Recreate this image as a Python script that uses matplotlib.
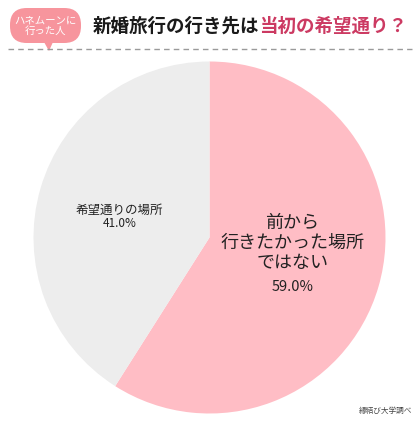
import matplotlib
matplotlib.use("Agg")
import matplotlib.pyplot as plt
from matplotlib.patches import FancyBboxPatch, Polygon
from matplotlib.lines import Line2D

plt.rcParams["font.family"] = ["Noto Sans CJK JP", "DejaVu Sans"]

# data
categories = ["前から\n行きたかった場所\nではない", "希望通りの場所"]
shares = [59.0, 41.0]
colors = ["#FFBDC5", "#EDEDED"]
# (x, y of name, y of percentage) in pie data units
label_pos = [(0.47, -0.031, -0.281), (-0.51, 0.156, 0.082)]
label_size = [13, 9]
pct_size = [10.5, 8.5]

title_black = "新婚旅行の行き先は"
title_red = "当初の希望通り？"
badge_text = "ハネムーンに\n行った人"
source_text = "縁結び大学調べ"

W, H = 420, 424
fig = plt.figure(figsize=(W / 100, H / 100), dpi=100)
fig.patch.set_facecolor("white")

# pie
cx, cy, r = 209.5, 237.5, 176
ax = fig.add_axes([(cx - r) / W, (H - cy - r) / H, 2 * r / W, 2 * r / H])
ax.pie(shares, colors=colors, startangle=90, counterclock=False,
       radius=1, wedgeprops=dict(linewidth=0))
ax.set_xlim(-1, 1)
ax.set_ylim(-1, 1)
ax.set_aspect("equal")
ax.axis("off")

for name, val, (x, yn, yp), fs, ps in zip(categories, shares, label_pos,
                                          label_size, pct_size):
    ax.text(x, yn, name, ha="center", va="center", fontsize=fs,
            color="#222222", linespacing=1.17)
    ax.text(x, yp, f"{val:.1f}%", ha="center", va="center",
            fontsize=ps, color="#222222")

# header badge
badge = FancyBboxPatch((10 / W, 1 - 43 / H), 71 / W, 35 / H,
                       boxstyle="round,pad=0,rounding_size=0.04",
                       transform=fig.transFigure, facecolor="#F7959D",
                       edgecolor="none", mutation_aspect=W / H)
fig.patches.append(badge)
tail = Polygon([(44 / W, 1 - 42 / H), (53 / W, 1 - 42 / H), (49 / W, 1 - 51 / H)],
               closed=True, transform=fig.transFigure,
               facecolor="#F7959D", edgecolor="none")
fig.patches.append(tail)
fig.text(45.5 / W, 1 - 25.5 / H, badge_text, ha="center", va="center",
         fontsize=7.5, color="white", linespacing=1.05)

# dashed separator
fig.lines.append(Line2D([8 / W, 412 / W], [1 - 48.5 / H, 1 - 48.5 / H],
                        transform=fig.transFigure, color="#9A9A9A",
                        linewidth=1.0, linestyle=(0, (4, 3))))

# title in two colours
t1 = fig.text(93 / W, 1 - 26 / H, title_black, ha="left", va="center",
              fontsize=13.3, fontweight="bold", color="#1A1A1A")
fig.canvas.draw()
bb = t1.get_window_extent()
fig.text(bb.x1 / W, 1 - 26 / H, title_red, ha="left", va="center",
         fontsize=13.3, fontweight="bold", color="#CC3A62")

# source
fig.text(412 / W, 1 - 411 / H, source_text, ha="right", va="center",
         fontsize=5.5, color="#444444")

fig.savefig("out.png", dpi=100)
